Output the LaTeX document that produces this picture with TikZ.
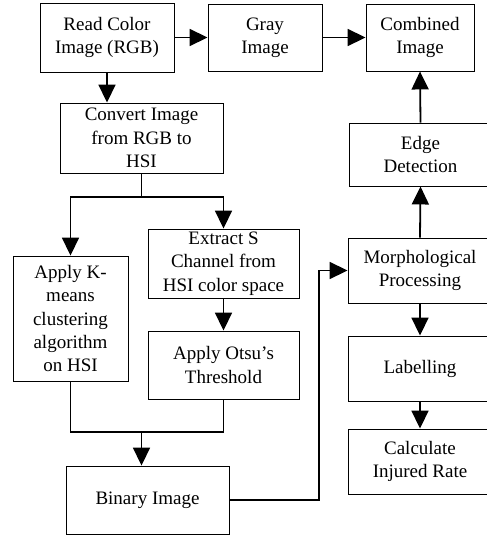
\documentclass[tikz,border=0pt]{standalone}
\usepackage{fontspec}
\setmainfont{Liberation Serif}
\usetikzlibrary{arrows.meta}
\begin{document}
\begin{tikzpicture}[x=1pt,y=-1pt,
  box/.style={draw,line width=0.9pt,inner sep=0pt,align=center,font=\fontsize{19}{23.3}\selectfont},
  conn/.style={line width=1.8pt,-{Triangle[width=17pt,length=18pt]}},
  plain/.style={line width=1.8pt}]
\useasboundingbox (0,0) rectangle (487,536);
\node[box,minimum width=134pt,minimum height=69pt] (read) at (107,37.5) {Read Color\\Image (RGB)};
\node[box,minimum width=114pt,minimum height=67pt] (gray) at (265,37.5) {Gray\\Image};
\node[box,minimum width=108pt,minimum height=67pt] (comb) at (420,37.5) {Combined\\Image};
\node[box,minimum width=163pt,minimum height=70pt] (conv) at (141.5,138) {Convert Image\\from RGB to\\HSI};
\node[box,minimum width=142pt,minimum height=63pt] (edge) at (420.5,154.5) {Edge\\Detection};
\node[box,minimum width=115pt,minimum height=125pt] (kmeans) at (70.5,318.5) {Apply K-\\means\\clustering\\algorithm\\on HSI};
\node[box,minimum width=151pt,minimum height=69pt] (extract) at (223.5,263.5) {Extract S\\Channel from\\HSI color space};
\node[box,minimum width=151pt,minimum height=68pt] (otsu) at (223.5,365) {Apply Otsu’s\\Threshold};
\node[box,minimum width=144pt,minimum height=65pt] (morph) at (420,270.5) {Morphological\\Processing};
\node[box,minimum width=144pt,minimum height=65pt] (label) at (420,368.5) {Labelling};
\node[box,minimum width=144pt,minimum height=65pt] (calc) at (420,461.5) {Calculate\\Injured Rate};
\node[box,minimum width=163pt,minimum height=68pt] (bin) at (147.5,500) {Binary Image};
\coordinate (split) at (141.5,197);
\coordinate (join) at (141.5,432);
\coordinate (turn) at (319,500);
\draw[conn] (read.east) -- (gray.west);
\draw[conn] (gray.east) -- (comb.west);
\draw[conn] (read.south) -- (read.south |- conv.north);
\draw[plain] (conv.south) -- (split);
\draw[conn] (split) -| (kmeans.north);
\draw[conn] (split) -| (extract.north);
\draw[conn] (extract.south) -- (otsu.south |- otsu.north);
\draw[plain] (kmeans.south) |- (join);
\draw[plain] (otsu.south) |- (join);
\draw[conn] (join) -- (join |- bin.north);
\draw[conn] (bin.east) -- (turn) |- (morph.west);
\draw[conn] (morph.north) -- (edge.south);
\draw[conn] (edge.north) -- (comb.south);
\draw[conn] (morph.south) -- (label.north);
\draw[conn] (label.south) -- (calc.north);
\end{tikzpicture}
\end{document}
